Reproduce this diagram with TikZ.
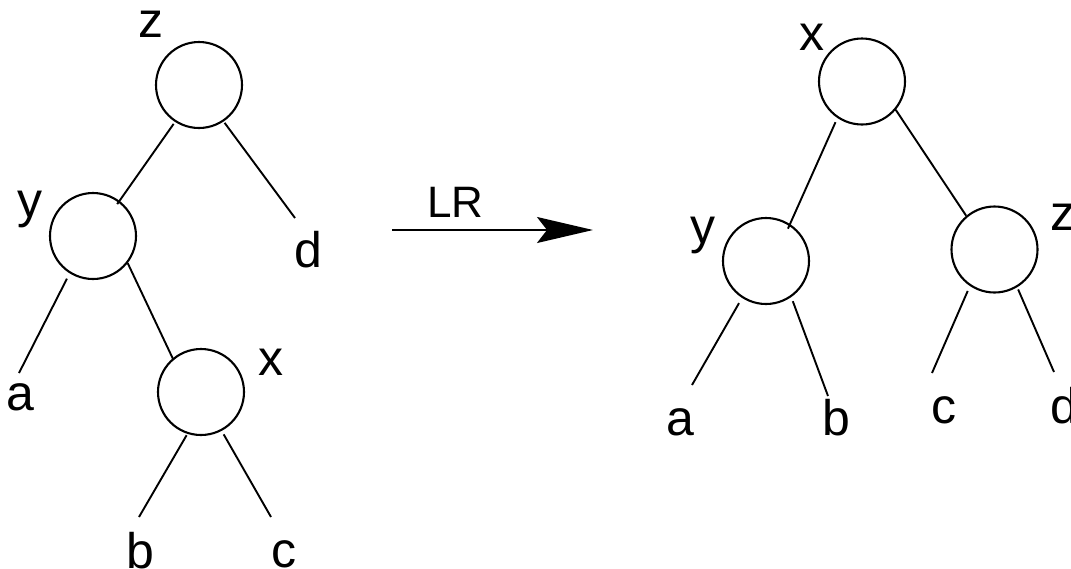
\documentclass[tikz,border=0pt]{standalone}
\usepackage{fontspec}
\setmainfont{Liberation Sans}
\usetikzlibrary{arrows.meta}
\begin{document}
\begin{tikzpicture}[x=0.5pt,y=-0.5pt,
  tn/.style={circle,draw,line width=1.05pt,minimum size=43pt,inner sep=0pt},
  lab/.style={anchor=base,inner sep=0pt,font=\fontsize{25pt}{30pt}\selectfont},
  edge/.style={line width=0.95pt},
  ]
\useasboundingbox (0,0) rectangle (1071,568);
% ---------- left tree ----------
\node[tn] (zL) at (199,85) {};
\node[tn] (yL) at (93,236) {};
\node[tn] (xL) at (201,392) {};
\node[lab] (zLl) at (151,37) {z};
\node[lab] (yLl) at (30,217) {y};
\node[lab] (xLl) at (271,375) {x};
\node[lab] (dLl) at (308,267) {d};
\node[lab] (aLl) at (20,410) {a};
\node[lab] (bLl) at (140,568) {b};
\node[lab] (cLl) at (284,567) {c};
\coordinate (dLe) at (295,218);
\coordinate (aLe) at (19,373);
\coordinate (bLe) at (139,517);
\coordinate (cLe) at (271,517);
\draw[edge,shorten <=1.2pt,shorten >=-2pt] (zL.-123) -- (yL.53);
\draw[edge,shorten <=0.8pt] (zL.-56) -- (dLe);
\draw[edge,shorten <=3pt] (yL.-122) -- (aLe);
\draw[edge,shorten >=-1pt] (yL.-38) -- (xL.130);
\draw[edge,shorten <=0.75pt] (xL.-108) -- (bLe);
\draw[edge,shorten <=2pt] (xL.-62) -- (cLe);
% ---------- arrow ----------
\coordinate (arS) at (392,230);
\coordinate (arE) at (593,230);
\node[anchor=base,inner sep=0pt,font=\fontsize{22pt}{26pt}\selectfont] (LR) at (455.5,217) {LR};
\draw[edge,-{Stealth[length=28pt,width=13pt,inset=5pt]}] (arS) -- (arE);
% ---------- right tree ----------
\node[tn] (xR) at (862,81.5) {};
\node[tn] (yR) at (766,261) {};
\node[tn] (zR) at (994.5,249.5) {};
\node[lab] (xRl) at (811.5,50) {x};
\node[lab] (yRl) at (703,243) {y};
\node[lab] (zRl) at (1063,230) {z};
\node[lab] (aRl) at (680.5,435) {a};
\node[lab] (bRl) at (836.5,435) {b};
\node[lab] (cRl) at (943.5,423) {c};
\node[lab] (dRl) at (1064,423) {d};
\coordinate (aRe) at (692,385);
\coordinate (bRe) at (828,396);
\coordinate (cRe) at (932,373);
\coordinate (dRe) at (1054,372);
\draw[edge,shorten <=2.3pt,shorten >=-2.5pt] (xR.-124) -- (yR.57);
\draw[edge] (xR.-40) -- (zR.130);
\draw[edge,shorten <=3pt] (yR.-123) -- (aRe);
\draw[edge,shorten <=2.2pt] (yR.-55) -- (bRe);
\draw[edge,shorten <=2.7pt] (zR.-124) -- (cRe);
\draw[edge,shorten <=1.2pt] (zR.-59) -- (dRe);
\end{tikzpicture}
\end{document}
